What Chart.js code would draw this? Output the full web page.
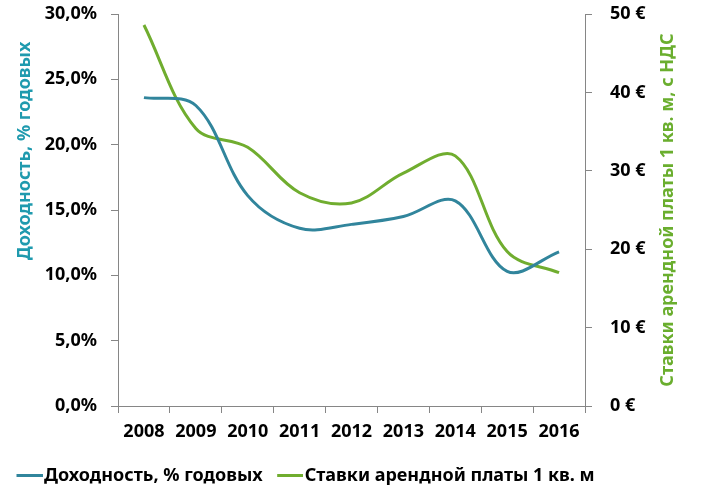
<!DOCTYPE html>
<html>
<head>
<meta charset="utf-8">
<script src="https://cdn.jsdelivr.net/npm/chart.js@4"></script>
<style>
  html, body { margin: 0; padding: 0; background: #fff; }
  #wrap { width: 718px; height: 486px; }
</style>
</head>
<body>
<div id="wrap"><canvas id="chart"></canvas></div>
<script>
const years = ['2008', '2009', '2010', '2011', '2012', '2013', '2014', '2015', '2016'];
const yieldPct = [23.6, 23.0, 16.1, 13.6, 13.9, 14.5, 15.7, 10.3, 11.8];
const rentEur = [48.6, 35.4, 33.0, 27.2, 25.9, 29.7, 31.9, 19.7, 17.0];
const yieldTicks = [0, 5, 10, 15, 20, 25, 30];
const rentTicks = [0, 10, 20, 30, 40, 50];

const BLUE = '#31859C';
const GREEN = '#70AD2F';
const AXIS = '#868686';
const FONT = 'Noto Sans';

// legend marker: short line, drawn on the right part of a small canvas
const legendLine = (color) => {
  const c = document.createElement('canvas');
  c.width = 33;
  c.height = 4;
  const g = c.getContext('2d');
  g.fillStyle = color;
  g.fillRect(7, 0, 26, 3);
  return c;
};

const axisTitles = {
  id: 'axisTitles',
  afterDraw(chart) {
    const ctx = chart.ctx;
    ctx.save();
    ctx.font = `bold 18px "${FONT}"`;
    ctx.textAlign = 'center';
    ctx.textBaseline = 'middle';

    ctx.save();
    ctx.translate(25, 151);
    ctx.rotate(-Math.PI / 2);
    ctx.fillStyle = '#1F9AAE';
    ctx.fillText('Доходность, % годовых', 0, 0);
    ctx.restore();

    ctx.save();
    ctx.translate(668, 210);
    ctx.rotate(-Math.PI / 2);
    ctx.fillStyle = '#6AAE2E';
    ctx.fillText('Ставки арендной платы 1 кв. м, с НДС', 0, 0);
    ctx.restore();

    ctx.restore();
  }
};

const tickFont = { family: FONT, size: 18, weight: 'bold' };

// fixed width, no extra room for the label overflow at top/bottom
const fixWidth = (w) => (s) => {
  s.width = w;
  s.paddingTop = 0;
  s.paddingBottom = 0;
};

new Chart(document.getElementById('chart'), {
  type: 'line',
  data: {
    labels: years,
    datasets: [{
      label: 'Доходность, % годовых',
      data: yieldPct,
      yAxisID: 'y',
      borderColor: BLUE,
      backgroundColor: BLUE,
      borderWidth: 3,
      tension: 0.35,
      pointRadius: 0,
      pointStyle: legendLine(BLUE)
    }, {
      label: 'Ставки арендной платы 1 кв. м',
      data: rentEur,
      yAxisID: 'y1',
      borderColor: GREEN,
      backgroundColor: GREEN,
      borderWidth: 3,
      tension: 0.35,
      pointRadius: 0,
      pointStyle: legendLine(GREEN)
    }]
  },
  options: {
    responsive: true,
    maintainAspectRatio: false,
    animation: false,
    layout: { padding: { left: 2, right: 0, top: 14, bottom: -9 } },
    plugins: {
      tooltip: { enabled: false },
      legend: {
        position: 'bottom',
        align: 'start',
        labels: {
          usePointStyle: true,
          boxWidth: 19,
          boxHeight: 18,
          padding: 15,
          color: '#000',
          font: tickFont
        }
      }
    },
    scales: {
      x: {
        offset: true,
        grid: { offset: true, drawOnChartArea: false, color: AXIS, tickLength: 7 },
        border: { color: AXIS },
        ticks: { color: '#000', font: tickFont, padding: 8, maxRotation: 0 },
        afterFit: (s) => { s.height = 46; }
      },
      y: {
        position: 'left',
        min: 0,
        max: 30,
        afterBuildTicks: (s) => { s.ticks = yieldTicks.map(v => ({ value: v })); },
        grid: { drawOnChartArea: false, color: AXIS, tickLength: 7 },
        border: { color: AXIS },
        ticks: {
          color: '#000',
          font: tickFont,
          padding: 14,
          callback: (v) => v.toFixed(1).replace('.', ',') + '%'
        },
        afterFit: fixWidth(116)
      },
      y1: {
        position: 'right',
        min: 0,
        max: 50,
        afterBuildTicks: (s) => { s.ticks = rentTicks.map(v => ({ value: v })); },
        grid: { drawOnChartArea: false, color: AXIS, tickLength: 7 },
        border: { color: AXIS },
        ticks: {
          color: '#000',
          font: tickFont,
          padding: 18,
          callback: (v) => v + ' €'
        },
        afterFit: fixWidth(133)
      }
    }
  },
  plugins: [axisTitles]
});
</script>
</body>
</html>
